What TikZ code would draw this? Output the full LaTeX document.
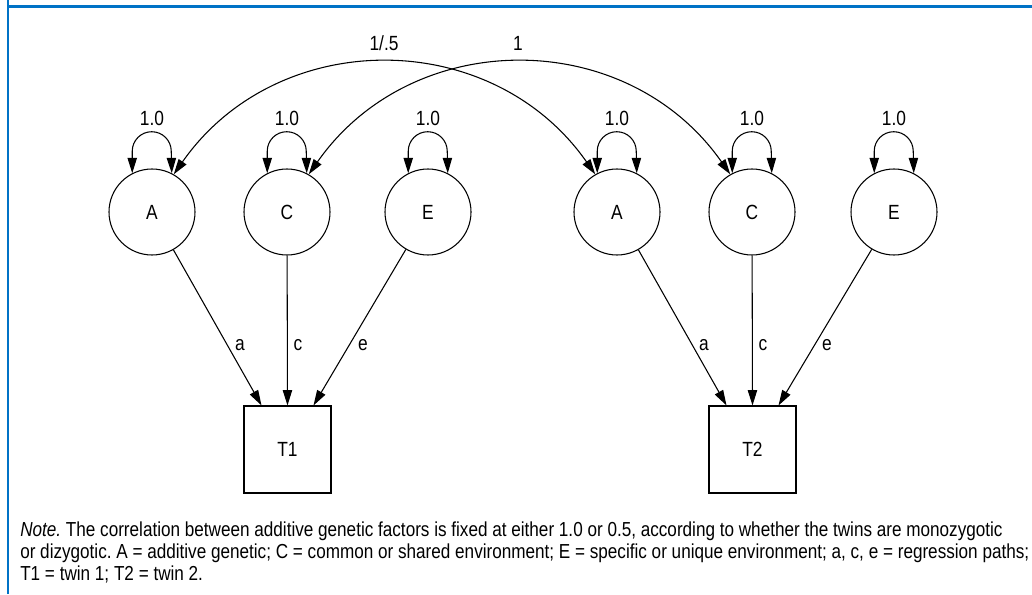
\documentclass[tikz,border=0pt]{standalone}
\usepackage{fontspec}
\setmainfont{Liberation Sans}[FakeStretch=0.845]
\usetikzlibrary{arrows.meta,calc}
\definecolor{frameblue}{RGB}{0,114,198}
\frenchspacing
\begin{document}
\begin{tikzpicture}[x=0.75pt,y=0.75pt,
  every node/.style={font=\fontsize{15.4}{18}\selectfont},
  latent/.style={circle, draw, line width=0.8pt, minimum size=64.5pt, inner sep=0pt},
  obs/.style={rectangle, draw, line width=0.8pt, minimum size=65.25pt, inner sep=0pt},
  regpath/.style={draw, line width=0.8pt, -{Triangle[length=11.5pt,width=7pt]}},
  selfloop/.style={draw, line width=0.8pt, {Triangle[length=11.5pt,width=7pt]}-{Triangle[length=11.5pt,width=7pt]}},
  corr/.style={draw, line width=0.8pt, {Triangle[length=11.5pt,width=7pt]}-{Triangle[length=11.5pt,width=7pt]}},
  lab/.style={inner sep=0pt},
  framerule/.style={draw=frameblue, line width=1.6pt}
]
\useasboundingbox (0,0) rectangle (1032,594);
% frame
\draw[framerule] (8,0) -- (8,594);
\draw[framerule] (8,587.5) -- (1032,587.5);

% latent factors
\node[latent] (A1) at (152,382) {A};
\node[latent] (C1) at (287,382) {C};
\node[latent] (E1) at (428,382) {E};
\node[latent] (A2) at (617,382) {A};
\node[latent] (C2) at (752,382) {C};
\node[latent] (E2) at (894,382) {E};

% observed
\node[obs] (T1) at (287.5,144.5) {T1};
\node[obs] (T2) at (752.5,144.5) {T2};

% regression paths
\draw[regpath] (A1) -- ([xshift=-19.5pt]T1.north);
\draw[regpath] (C1) -- (T1.north);
\draw[regpath] (E1) -- ([xshift=19.5pt]T1.north);
\draw[regpath] (A2) -- ([xshift=-19.5pt]T2.north);
\draw[regpath] (C2) -- (T2.north);
\draw[regpath] (E2) -- ([xshift=19.5pt]T2.north);

\node[lab] (la1) at (240,249) {a};
\node[lab] (lc1) at (298,249) {c};
\node[lab] (le1) at (363,249) {e};
\node[lab] (la2) at (704,249) {a};
\node[lab] (lc2) at (763,249) {c};
\node[lab] (le2) at (827,249) {e};

% variance loops
\foreach \n in {A1,C1,E1,A2,C2,E2}{
  \draw[selfloop] (\n.117) -- ++(0,22) arc[start angle=180,end angle=0,radius=14.625pt] -- (\n.63);
}
\node[lab] (vA1) at (152,476) {1.0};
\node[lab] (vC1) at (287,476) {1.0};
\node[lab] (vE1) at (428,476) {1.0};
\node[lab] (vA2) at (617,476) {1.0};
\node[lab] (vC2) at (752,476) {1.0};
\node[lab] (vE2) at (894,476) {1.0};

% correlations
\draw[corr] (A1.60) to[out=55,in=125,looseness=1.1] (A2.120);
\draw[corr] (C1.60) to[out=55,in=125,looseness=1.1] (C2.120);
\node[lab] (rA) at (384,551) {1/.5};
\node[lab] (rC) at (518,551) {1};

% note
\node[anchor=north west, inner sep=0pt, align=left, font=\fontsize{15.2}{16.5}\selectfont] (note) at (20,72)
{\textit{Note.} The correlation between additive genetic factors is fixed at either 1.0 or 0.5, according to whether the twins are monozygotic\\
or dizygotic. A = additive genetic; C = common or shared environment; E = specific or unique environment; a, c, e = regression paths;\\
T1 = twin 1; T2 = twin 2.};
\end{tikzpicture}
\end{document}
